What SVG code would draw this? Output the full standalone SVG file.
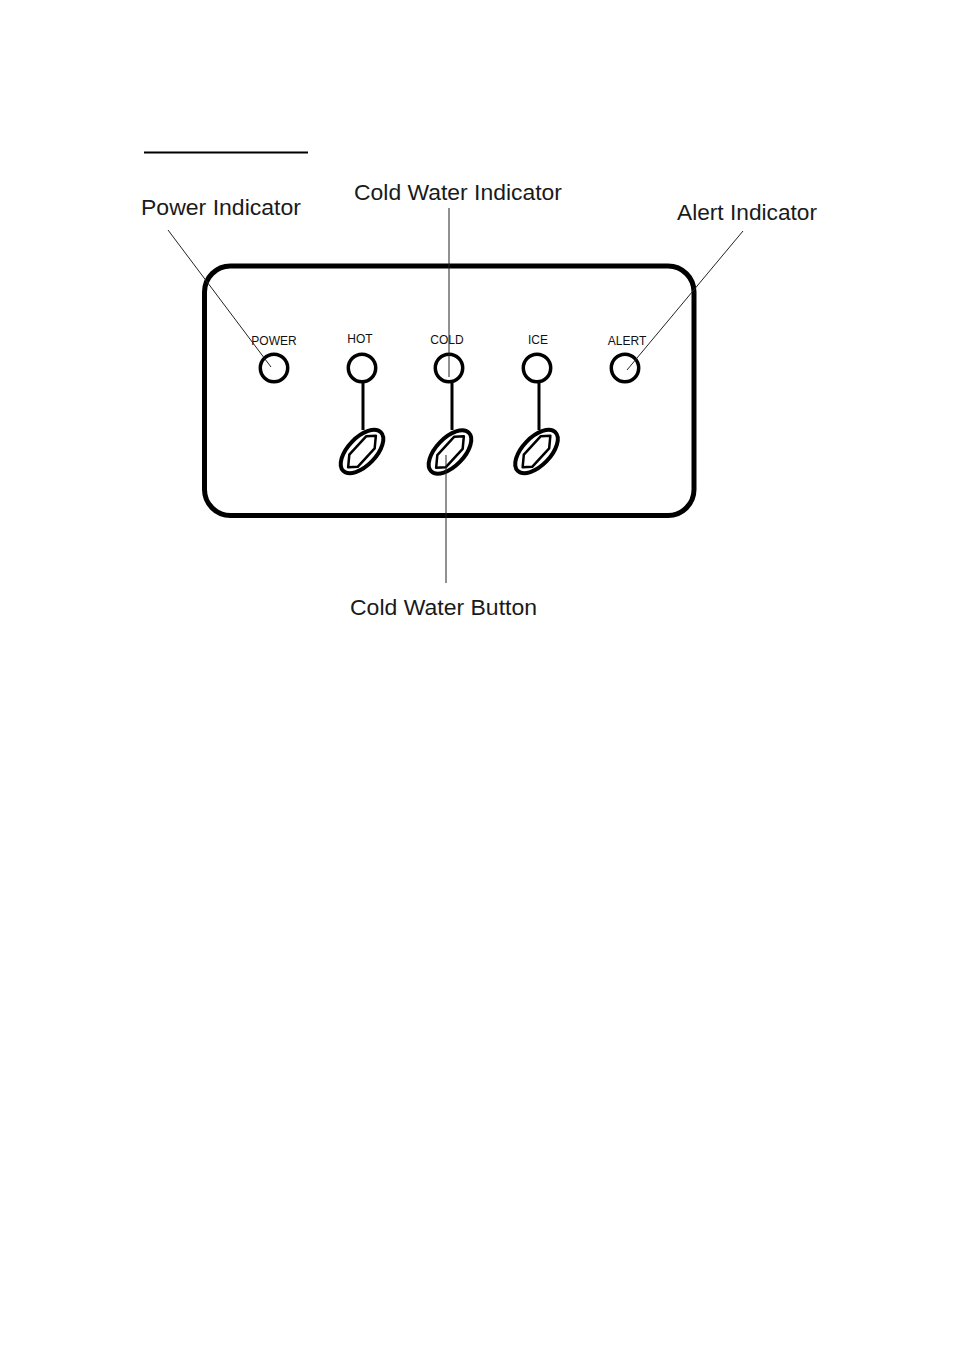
<svg xmlns="http://www.w3.org/2000/svg" width="954" height="1345" viewBox="0 0 954 1345">
<style>
.lbl{font-family:"Liberation Sans",Arial,sans-serif;font-size:22px;fill:#1a1a1a}
.sm{font-family:"Liberation Sans",Arial,sans-serif;font-size:12px;fill:#111;text-anchor:middle}
.led{fill:#fff;stroke:#000;stroke-width:3.5}
.stem{stroke:#000;stroke-width:3}
.bo{fill:#fff;stroke:#000;stroke-width:4}
.bi{fill:#fff;stroke:#000;stroke-width:2.5;stroke-linejoin:round}
.lead{stroke:#222;stroke-width:1;fill:none}
</style>
<defs>
<g id="btn">
<ellipse cx="0" cy="0" rx="27" ry="14" class="bo"/>
<path d="M-21,1 L-11,-7 L14,-7.5 L21,-1 L11,7 L-14,7.5 Z" class="bi"/>
</g>
</defs>
<rect width="954" height="1345" fill="#fff"/>
<line x1="144" y1="152.5" x2="308" y2="152.5" stroke="#000" stroke-width="2"/>
<g id="panel">
<rect x="204.5" y="266" width="489.5" height="249.5" rx="26" ry="26" fill="#fff" stroke="#000" stroke-width="5"/>
</g>
<g id="power">
<text class="sm" x="274" y="345">POWER</text>
<circle cx="274" cy="368" r="13.7" class="led"/>
</g>
<g id="hot">
<text class="sm" x="360" y="343">HOT</text>
<circle cx="362" cy="368" r="13.7" class="led"/>
<line x1="363" y1="382" x2="363" y2="430" class="stem"/>
<use href="#btn" transform="translate(362,451.5) rotate(-46)"/>
</g>
<g id="cold">
<text class="sm" x="447" y="344">COLD</text>
<circle cx="449" cy="368" r="13.7" class="led"/>
<line x1="452" y1="382" x2="452" y2="430" class="stem"/>
<use href="#btn" transform="translate(450,452) rotate(-46)"/>
</g>
<g id="ice">
<text class="sm" x="538" y="344">ICE</text>
<circle cx="537" cy="368" r="13.7" class="led"/>
<line x1="539" y1="382" x2="539" y2="430" class="stem"/>
<use href="#btn" transform="translate(536.5,451.5) rotate(-46)"/>
</g>
<g id="alert">
<text class="sm" x="627" y="345">ALERT</text>
<circle cx="625" cy="368" r="13.7" class="led"/>
</g>
<g id="labels">
<text class="lbl" x="141" y="215" textLength="160" lengthAdjust="spacingAndGlyphs">Power Indicator</text>
<text class="lbl" x="354" y="200" textLength="208" lengthAdjust="spacingAndGlyphs">Cold Water Indicator</text>
<text class="lbl" x="677" y="220" textLength="140" lengthAdjust="spacingAndGlyphs">Alert Indicator</text>
<text class="lbl" x="350" y="615" textLength="187" lengthAdjust="spacingAndGlyphs">Cold Water Button</text>
</g>
<g id="connectors">
<line x1="168" y1="230" x2="271" y2="367" class="lead"/>
<line x1="449" y1="208" x2="449" y2="377" class="lead"/>
<line x1="743" y1="231" x2="627" y2="370" class="lead"/>
<line x1="446" y1="455" x2="446" y2="583" class="lead"/>
</g>
</svg>
